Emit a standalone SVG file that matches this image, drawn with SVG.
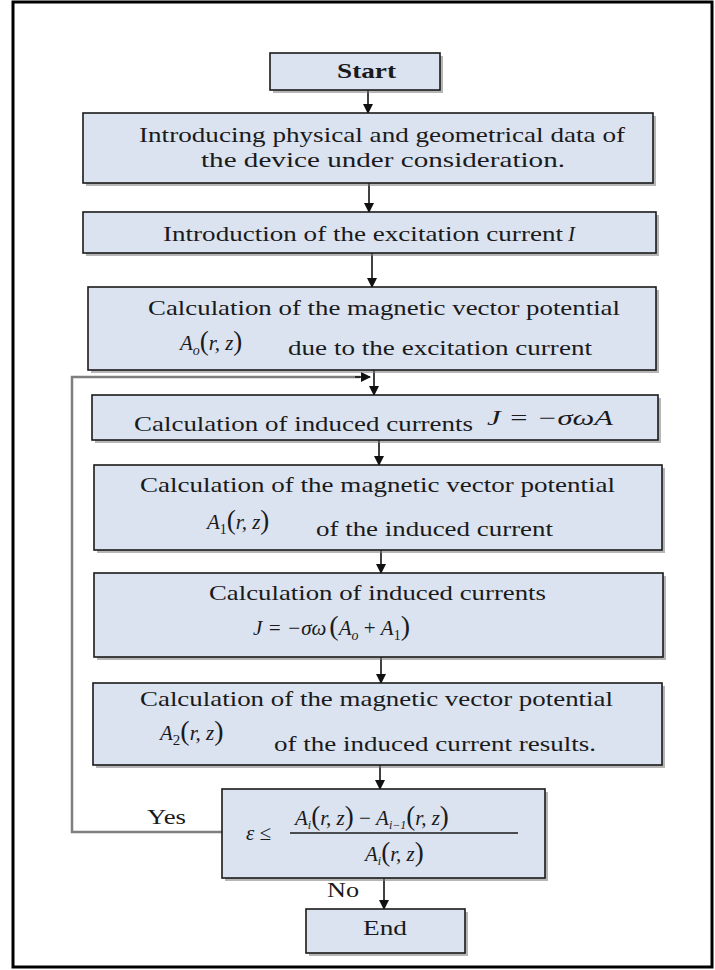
<svg xmlns="http://www.w3.org/2000/svg" width="715" height="970" viewBox="0 0 715 970">
<defs>
<marker id="ah" markerUnits="userSpaceOnUse" markerWidth="10" markerHeight="10" refX="9" refY="5" orient="auto">
<path d="M0,0 L10,5 L0,10 z" fill="#111"/>
</marker>
</defs>
<style>
.box{fill:#dbe3f1;stroke:#1a1a1a;stroke-width:1.6}
.sh{fill:#7a7a7a;opacity:.55}
.t{font-family:"Liberation Serif","Times New Roman",serif;font-size:21px;fill:#1a1a1a}
.b{font-weight:bold}
.i{font-style:italic}
.con{fill:none;stroke:#111;stroke-width:1.6}
.loop{fill:none;stroke:#7f7f7f;stroke-width:2.5}
</style>
<rect x="0" y="0" width="715" height="970" fill="#ffffff"/>
<rect x="13" y="2" width="699" height="965" fill="none" stroke="#000" stroke-width="3"/>

<g id="connectors">
<line class="con" x1="368" y1="90" x2="368" y2="113" marker-end="url(#ah)"/>
<line class="con" x1="369" y1="183" x2="369" y2="212" marker-end="url(#ah)"/>
<line class="con" x1="372" y1="253" x2="372" y2="287" marker-end="url(#ah)"/>
<line class="con" x1="374" y1="370" x2="374" y2="395" marker-end="url(#ah)"/>
<line class="con" x1="379" y1="440" x2="379" y2="465" marker-end="url(#ah)"/>
<line class="con" x1="381" y1="550" x2="381" y2="573" marker-end="url(#ah)"/>
<line class="con" x1="381" y1="657" x2="381" y2="683" marker-end="url(#ah)"/>
<line class="con" x1="380" y1="765" x2="380" y2="789" marker-end="url(#ah)"/>
<line class="con" x1="384" y1="878" x2="384" y2="909" marker-end="url(#ah)"/>
<polyline class="loop" points="222,832 72,832 72,377 360,377"/>
<line class="con" x1="355" y1="377" x2="370" y2="377" marker-end="url(#ah)"/>
<text class="t" x="147" y="824" textLength="39" lengthAdjust="spacingAndGlyphs">Yes</text>
<text class="t" x="327" y="897" textLength="32" lengthAdjust="spacingAndGlyphs">No</text>
</g>

<g id="start">
<rect class="sh" x="273" y="56" width="170" height="37"/>
<rect class="box" x="270" y="53" width="170" height="37"/>
<text class="t b" x="337" y="78" textLength="59" lengthAdjust="spacingAndGlyphs">Start</text>
</g>

<g id="input-data">
<rect class="sh" x="86" y="116" width="570" height="70"/>
<rect class="box" x="83" y="113" width="570" height="70"/>
<text class="t" x="139" y="142" textLength="486" lengthAdjust="spacingAndGlyphs">Introducing physical and geometrical data of</text>
<text class="t" x="201" y="167" textLength="364" lengthAdjust="spacingAndGlyphs">the device under consideration.</text>
</g>

<g id="excitation">
<rect class="sh" x="86" y="215" width="573" height="41"/>
<rect class="box" x="83" y="212" width="573" height="41"/>
<text class="t" x="163" y="241" textLength="400" lengthAdjust="spacingAndGlyphs">Introduction of the excitation current</text>
<text class="t i" x="568" y="241">I</text>
</g>

<g id="potential-a0">
<rect class="sh" x="91" y="290" width="568" height="83"/>
<rect class="box" x="88" y="287" width="568" height="83"/>
<text class="t" x="148" y="315" textLength="472" lengthAdjust="spacingAndGlyphs">Calculation of the magnetic vector potential</text>
<text class="t i" x="180" y="350" font-size="23">A<tspan font-size="14" dy="5">o</tspan><tspan font-style="normal" font-size="27" dy="-5">(</tspan><tspan>r, z</tspan><tspan font-style="normal" font-size="27">)</tspan></text>
<text class="t" x="288" y="355" textLength="304" lengthAdjust="spacingAndGlyphs">due to the excitation current</text>
</g>

<g id="induced-1">
<rect class="sh" x="95" y="398" width="566" height="45"/>
<rect class="box" x="92" y="395" width="566" height="45"/>
<text class="t" x="134" y="431" textLength="339" lengthAdjust="spacingAndGlyphs">Calculation of induced currents</text>
<text class="t i" x="487" y="425" font-size="23" textLength="126" lengthAdjust="spacingAndGlyphs">J = −σωA</text>
</g>

<g id="potential-a1">
<rect class="sh" x="97" y="468" width="568" height="85"/>
<rect class="box" x="94" y="465" width="568" height="85"/>
<text class="t" x="140" y="492" textLength="475" lengthAdjust="spacingAndGlyphs">Calculation of the magnetic vector potential</text>
<text class="t i" x="207" y="529" font-size="23">A<tspan font-style="normal" font-size="14" dy="5">1</tspan><tspan font-style="normal" font-size="27" dy="-5">(</tspan><tspan>r, z</tspan><tspan font-style="normal" font-size="27">)</tspan></text>
<text class="t" x="316" y="536" textLength="237" lengthAdjust="spacingAndGlyphs">of the induced current</text>
</g>

<g id="induced-2">
<rect class="sh" x="97" y="576" width="569" height="84"/>
<rect class="box" x="94" y="573" width="569" height="84"/>
<text class="t" x="209" y="600" textLength="337" lengthAdjust="spacingAndGlyphs">Calculation of induced currents</text>
<text class="t i" x="253" y="635" font-size="23">J = −σω<tspan font-style="normal" font-size="28" dx="3">(</tspan><tspan>A</tspan><tspan font-size="14" dy="5">o</tspan><tspan font-style="normal" dy="-5"> + </tspan><tspan>A</tspan><tspan font-style="normal" font-size="14" dy="5">1</tspan><tspan font-style="normal" font-size="28" dy="-5">)</tspan></text>
</g>

<g id="potential-a2">
<rect class="sh" x="96" y="686" width="569" height="82"/>
<rect class="box" x="93" y="683" width="569" height="82"/>
<text class="t" x="140" y="706" textLength="473" lengthAdjust="spacingAndGlyphs">Calculation of the magnetic vector potential</text>
<text class="t i" x="160" y="740" font-size="24">A<tspan font-style="normal" font-size="15" dy="5">2</tspan><tspan font-style="normal" font-size="28" dy="-5">(</tspan><tspan>r, z</tspan><tspan font-style="normal" font-size="28">)</tspan></text>
<text class="t" x="274" y="751" textLength="322" lengthAdjust="spacingAndGlyphs">of the induced current results.</text>
</g>

<g id="convergence">
<rect class="sh" x="225" y="792" width="323" height="89"/>
<rect class="box" x="222" y="789" width="323" height="89"/>
<text class="t i" x="246" y="840" font-size="23">ε ≤</text>
<text class="t i" x="295" y="825" font-size="23">A<tspan font-size="12" dy="4">i</tspan><tspan font-style="normal" font-size="27" dy="-4">(</tspan><tspan>r, z</tspan><tspan font-style="normal" font-size="27">)</tspan><tspan font-style="normal"> − </tspan><tspan>A</tspan><tspan font-size="12" dy="4">i−1</tspan><tspan font-style="normal" font-size="27" dy="-4">(</tspan><tspan>r, z</tspan><tspan font-style="normal" font-size="27">)</tspan></text>
<line x1="290" y1="833" x2="518" y2="833" stroke="#1a1a1a" stroke-width="1.4"/>
<text class="t i" x="365" y="861" font-size="23">A<tspan font-size="12" dy="4">i</tspan><tspan font-style="normal" font-size="27" dy="-4">(</tspan><tspan>r, z</tspan><tspan font-style="normal" font-size="27">)</tspan></text>
</g>

<g id="end">
<rect class="sh" x="309" y="912" width="159" height="44"/>
<rect class="box" x="306" y="909" width="159" height="44"/>
<text class="t" x="363" y="935" textLength="44" lengthAdjust="spacingAndGlyphs">End</text>
</g>
</svg>
